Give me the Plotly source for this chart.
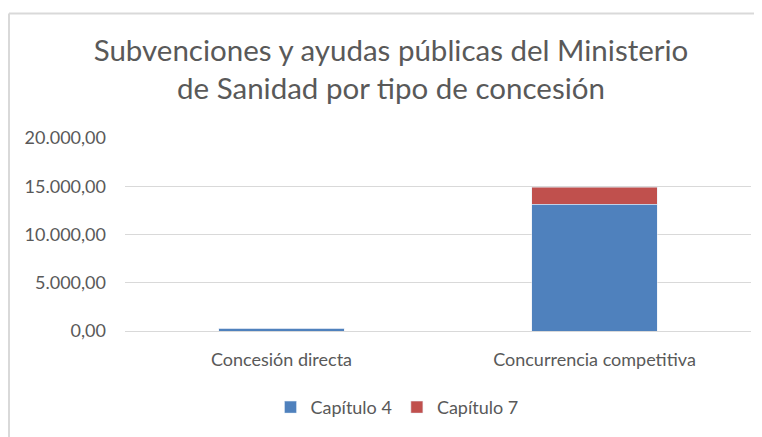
import plotly.graph_objects as go

categories = ["Concesión directa", "Concurrencia competitiva"]
capitulo_4 = [290, 13160]
capitulo_7 = [0, 1740]
tick_vals = [0, 5000, 10000, 15000, 20000]
tick_text = ["0,00", "5.000,00", "10.000,00", "15.000,00", "20.000,00"]

FONT = "Lato"
GRAY = "#595959"

fig = go.Figure()
fig.add_trace(go.Bar(name="Capítulo 4", x=categories, y=capitulo_4, marker_color="#4F81BD"))
fig.add_trace(go.Bar(name="Capítulo 7", x=categories, y=capitulo_7, marker_color="#C0504D"))

# page body has an 8px margin; layout coords = page coords - 8
OFF = 8
W, H = 762 - OFF, 437 - OFF
L, R, T, B = 125 - OFF, 762 - 751, 138 - OFF, 437 - 335
pw = W - L - R
ph = H - T - B

def px_x(px):
    return (px - OFF - L) / pw

def px_y(py):
    return (H - B - (py - OFF)) / ph

fig.update_layout(
    barmode="stack",
    bargap=0.6,
    width=W, height=H,
    margin=dict(l=L, r=R, t=T, b=B),
    paper_bgcolor="white",
    plot_bgcolor="white",
    font=dict(family=FONT, color=GRAY, size=18),
    title=dict(
        text="Subvenciones y ayudas públicas del Ministerio<br>de Sanidad por tipo de concesión",
        x=(391 - OFF) / W, xanchor="center", y=0.877, yanchor="top",
        font=dict(family=FONT, size=29.5, color=GRAY),
    ),
    legend=dict(
        orientation="h", x=px_x(397), xanchor="center", y=px_y(413), yanchor="middle",
        font=dict(family=FONT, size=18, color=GRAY), traceorder="normal",
    ),
    showlegend=True,
)
fig.update_yaxes(
    range=[0, 20000], tickvals=tick_vals, ticktext=tick_text,
    showgrid=True, gridcolor="#D9D9D9", gridwidth=1, zeroline=False,
    showline=False, ticks="", ticklabelstandoff=18,
    tickfont=dict(family=FONT, size=18, color=GRAY),
)
fig.update_xaxes(
    showline=True, linecolor="#D9D9D9", linewidth=1, ticks="",
    ticklabelstandoff=12,
    tickfont=dict(family=FONT, size=18, color=GRAY),
)
# chart-area border (top and left edges visible)
fig.add_shape(type="line", xref="paper", yref="paper",
              x0=px_x(9), x1=px_x(780), y0=px_y(11), y1=px_y(11),
              line=dict(color="#D9D9D9", width=2))
fig.add_shape(type="line", xref="paper", yref="paper",
              x0=px_x(9), x1=px_x(9), y0=px_y(11), y1=px_y(460),
              line=dict(color="#D9D9D9", width=2))

fig.write_html("out.html")
